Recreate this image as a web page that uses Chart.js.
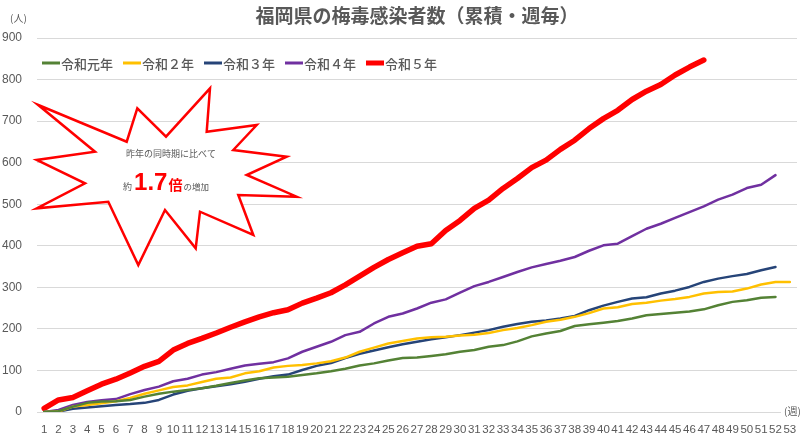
<!DOCTYPE html>
<html>
<head>
<meta charset="utf-8">
<script src="https://cdn.jsdelivr.net/npm/chart.js@4.4.0/dist/chart.umd.min.js"></script>
<style>
  html, body { margin: 0; padding: 0; background: #fff; }
  #wrap { width: 800px; height: 437px; }
</style>
</head>
<body>
<div id="wrap"><canvas id="syphilisChart" width="800" height="437"></canvas></div>
<script>
// Week numbers (x axis)
const weeks = ['1','2','3','4','5','6','7','8','9','10','11','12','13','14','15','16','17','18','19','20',
  '21','22','23','24','25','26','27','28','29','30','31','32','33','34','35','36','37','38','39','40',
  '41','42','43','44','45','46','47','48','49','50','51','52','53'];

// Cumulative cases per year
const reiwa1 = [0, 2, 13, 22, 25, 26, 29, 37, 44, 49, 53, 57, 63, 70, 76, 81, 83, 85, 89, 93,
  98, 104, 112, 117, 124, 130, 131, 135, 139, 145, 149, 157, 161, 170, 182, 189, 195, 207, 211, 215,
  219, 225, 233, 236, 239, 242, 247, 257, 265, 269, 275, 277];
const reiwa2 = [0, 1, 13, 17, 21, 26, 34, 44, 52, 60, 64, 72, 80, 83, 93, 98, 107, 111, 113, 117,
  122, 131, 145, 155, 165, 171, 177, 180, 181, 184, 186, 190, 197, 202, 209, 217, 222, 229, 238, 249,
  252, 260, 263, 268, 272, 277, 285, 289, 290, 297, 307, 313, 313];
const reiwa3 = [0, 1, 8, 11, 14, 17, 19, 22, 29, 42, 51, 57, 62, 67, 73, 80, 86, 90, 101, 111,
  118, 130, 140, 148, 156, 163, 169, 175, 180, 185, 191, 197, 205, 212, 217, 220, 225, 231, 245, 256,
  265, 273, 276, 285, 292, 301, 313, 321, 327, 332, 341, 349];
const reiwa4 = [0, 5, 17, 24, 28, 31, 43, 53, 61, 74, 80, 90, 96, 104, 112, 116, 120, 129, 145, 157,
  169, 185, 193, 213, 229, 237, 249, 263, 271, 287, 303, 313, 325, 337, 348, 356, 364, 373, 388, 401,
  405, 423, 441, 453, 467, 481, 495, 511, 523, 539, 547, 570];
const reiwa5 = [9, 29, 35, 51, 67, 79, 94, 110, 122, 149, 165, 177, 190, 204, 217, 229, 239, 246, 262, 274,
  287, 306, 327, 348, 367, 383, 399, 405, 437, 461, 490, 510, 538, 562, 588, 606, 632, 654, 682, 706,
  726, 752, 772, 788, 811, 830, 847];

const seriesLabels = ['令和元年', '令和２年', '令和３年', '令和４年', '令和５年'];
const yTicks = [0, 100, 200, 300, 400, 500, 600, 700, 800, 900];

const JP = '"Noto Sans CJK JP", "Noto Sans", sans-serif';
const GREY = '#595959';

// Extra drawing: title, axis units, legend inside the plot, starburst callout
const decorPlugin = {
  id: 'decor',
  afterDraw(chart) {
    const ctx = chart.ctx;
    const area = chart.chartArea;
    ctx.save();

    // title
    ctx.fillStyle = GREY;
    ctx.font = 'bold 19px ' + JP;
    ctx.textAlign = 'center';
    ctx.textBaseline = 'middle';
    ctx.fillText('福岡県の梅毒感染者数（累積・週毎）', (area.left + area.right) / 2, 16);

    // units
    ctx.font = '10px ' + JP;
    ctx.textAlign = 'left';
    ctx.fillText('(人)', 10, 18);
    ctx.fillStyle = '#fff';
    ctx.fillRect(781, 402, 19, 18);
    ctx.fillStyle = GREY;
    ctx.fillText('(週)', 784, 411);

    // legend
    ctx.font = '500 13px ' + JP;
    let x = 42;
    const ly = 63;
    chart.data.datasets.forEach(ds => {
      ctx.strokeStyle = ds.borderColor;
      ctx.lineWidth = ds.borderWidth > 4 ? 5 : 3;
      ctx.lineCap = 'butt';
      ctx.beginPath();
      ctx.moveTo(x, ly);
      ctx.lineTo(x + 18, ly);
      ctx.stroke();
      ctx.fillStyle = GREY;
      ctx.textBaseline = 'middle';
      ctx.fillText(ds.label, x + 19, ly + 1);
      x += 19 + ctx.measureText(ds.label).width + 10;
    });

    // starburst callout
    const star = [[38.3,105],[126.7,141.7],[137.3,108.3],[166,136.7],[210,88.3],[206.7,131.7],
      [256.7,125],[233.3,150],[286.7,156.7],[246.7,175],[296.7,196.7],[238.3,195],[253.3,235],
      [200,211.7],[195.7,248.3],[165,210],[138.3,265],[108.3,201.7],[36.7,208.3],[85,183.3],
      [36.7,160],[95,151.7]];
    ctx.beginPath();
    star.forEach((p, i) => i ? ctx.lineTo(p[0], p[1]) : ctx.moveTo(p[0], p[1]));
    ctx.closePath();
    ctx.fillStyle = '#fff';
    ctx.fill();
    ctx.strokeStyle = '#FF0000';
    ctx.lineWidth = 2.5;
    ctx.lineJoin = 'miter';
    ctx.stroke();

    ctx.fillStyle = GREY;
    ctx.font = '9px ' + JP;
    ctx.textAlign = 'center';
    ctx.textBaseline = 'middle';
    ctx.fillText('昨年の同時期に比べて', 171, 154);

    // second line: 約 1.7 倍 の増加
    ctx.textBaseline = 'alphabetic';
    ctx.textAlign = 'left';
    const parts = [
      { t: '約', f: '9px ' + JP, c: GREY, gap: 2 },
      { t: '1.7', f: 'bold 24px "Liberation Sans", Arial, sans-serif', c: '#FF0000', gap: 1 },
      { t: '倍', f: 'bold 14px ' + JP, c: '#FF0000', gap: 1 },
      { t: 'の増加', f: '8.5px ' + JP, c: GREY, gap: 0 }
    ];
    let total = 0;
    parts.forEach(p => { ctx.font = p.f; p.w = ctx.measureText(p.t).width; total += p.w + p.gap; });
    let tx = 166 - total / 2;
    parts.forEach(p => {
      ctx.font = p.f;
      ctx.fillStyle = p.c;
      ctx.fillText(p.t, tx, 190);
      tx += p.w + p.gap;
    });

    ctx.restore();
  }
};

function makeSet(label, data, color, width) {
  return {
    label: label,
    data: data,
    borderColor: color,
    backgroundColor: color,
    borderWidth: width,
    pointRadius: 0,
    pointHoverRadius: 0,
    tension: 0,
    fill: false,
    borderJoinStyle: 'round',
    borderCapStyle: 'round'
  };
}

function createChart() {
  const ctx = document.getElementById('syphilisChart').getContext('2d');
  new Chart(ctx, {
    type: 'line',
    data: {
      labels: weeks,
      datasets: [
        makeSet(seriesLabels[0], reiwa1, '#548235', 2.5),
        makeSet(seriesLabels[1], reiwa2, '#FFC000', 2.5),
        makeSet(seriesLabels[2], reiwa3, '#264478', 2.5),
        makeSet(seriesLabels[3], reiwa4, '#7030A0', 2.5),
        makeSet(seriesLabels[4], reiwa5, '#FF0000', 5.5)
      ]
    },
    options: {
      responsive: false,
      animation: false,
      devicePixelRatio: 1,
      layout: { padding: { top: 38, right: 3, left: 0, bottom: 0 } },
      plugins: {
        legend: { display: false },
        title: { display: false },
        tooltip: { enabled: false }
      },
      scales: {
        x: {
          offset: true,
          grid: { display: false },
          border: { display: false },
          ticks: {
            autoSkip: false,
            maxRotation: 0,
            minRotation: 0,
            padding: 3,
            color: GREY,
            font: { family: '"Liberation Sans", Arial, sans-serif', size: 11.5 }
          },
          afterFit: scale => { scale.height = 25; }
        },
        y: {
          min: 0,
          max: 900,
          afterBuildTicks: scale => { scale.ticks = yTicks.map(v => ({ value: v })); },
          grid: { color: '#D9D9D9', lineWidth: 1, drawTicks: false },
          border: { display: false },
          ticks: {
            padding: 15,
            color: GREY,
            font: { family: '"Liberation Sans", Arial, sans-serif', size: 12 }
          },
          afterFit: scale => { scale.width = 37; }
        }
      }
    },
    plugins: [decorPlugin]
  });
}

window.onload = function() {
  createChart();
};
</script>
</body>
</html>
